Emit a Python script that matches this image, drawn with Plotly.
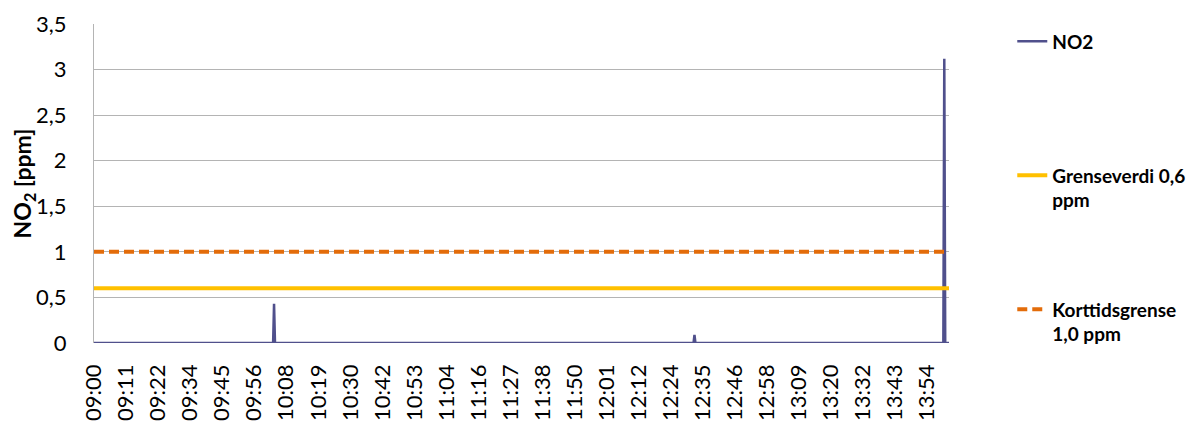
"""
NO2 measurement with limit values (Grenseverdi / Korttidsgrense)
"""
import plotly.graph_objects as go

# --------------------------------------------------------------------
#                               Data
# --------------------------------------------------------------------
# Measurement day (dummy date, only time of day is shown)
day = '2020-01-01'

# NO2 readings [ppm] - zero most of the time, three short peaks
no2_times = ['09:00:00', '10:03:20', '10:03:40', '10:04:00',
             '12:32:00', '12:32:20', '12:32:40',
             '14:00:20', '14:00:40', '14:01:00', '14:02:20']
no2_values = [0, 0, 0.43, 0,
              0, 0.09, 0,
              0, 3.12, 0, 0]

# Limit values [ppm]
limit_times = ['09:00:00', '14:02:20']
grenseverdi = [0.6, 0.6]
korttidsgrense = [1.0, 1.0]

# Axis
y_ticks = [0, 0.5, 1, 1.5, 2, 2.5, 3, 3.5]

# --------------------------------------------------------------------
#                               Plot
# --------------------------------------------------------------------
font = 'Lato, Open Sans, sans-serif'

def stamp(t):
    return '{0} {1}'.format(day, t)

fig = go.Figure()

fig.add_trace(go.Scatter(
    x=[stamp(t) for t in no2_times], y=no2_values,
    mode='lines', name='<b>NO2</b>',
    line=dict(color='#50508C', width=2.5),
    showlegend=True, legend='legend'))

fig.add_trace(go.Scatter(
    x=[stamp(t) for t in limit_times], y=grenseverdi,
    mode='lines', name='<b>Grenseverdi 0,6<br>ppm</b>',
    line=dict(color='#FFC000', width=4),
    showlegend=True, legend='legend2'))

fig.add_trace(go.Scatter(
    x=[stamp(t) for t in limit_times], y=korttidsgrense,
    mode='lines', name='<b>Korttidsgrense<br>1,0 ppm</b>',
    line=dict(color='#E36C0A', width=4, dash='10px,5px'),
    showlegend=True, legend='legend3'))

# Legend style (one legend per trace, so each can be placed freely)
def legend_at(y):
    return dict(xanchor='left', yanchor='top', x=1.074, y=y,
                valign='top', bgcolor='rgba(0,0,0,0)',
                font=dict(family=font, size=19, color='#000000'))

# The page body adds an 8px offset, so the figure is 8px smaller
fig.update_layout(
    width=1192, height=419,
    margin=dict(l=86, r=251, t=16, b=84, autoexpand=False),
    plot_bgcolor='white', paper_bgcolor='white',
    separators=', ',
    showlegend=True,
    font=dict(family=font, color='#000000'),
    legend=legend_at(1.005),
    legend2=legend_at(0.585),
    legend3=legend_at(0.165),
    xaxis=dict(
        type='date',
        range=[stamp(limit_times[0]), stamp(limit_times[-1])],
        tick0=stamp('09:00:00'), dtick=680000,
        tickformat='%H:%M', tickangle=-90,
        tickfont=dict(family=font, size=22),
        ticklabelstandoff=16,
        showgrid=False, zeroline=False, showline=False,
        ticks='', automargin=False),
    yaxis=dict(
        range=[0, 3.5],
        tickvals=y_ticks,
        tickfont=dict(family=font, size=22),
        ticklabelstandoff=22,
        showgrid=True, gridcolor='#B4B4B4', gridwidth=1,
        zeroline=False, automargin=False,
        showline=True, linecolor='#B4B4B4', linewidth=1,
        title=dict(text='<b>NO<sub>2</sub> [ppm]</b>',
                   font=dict(family=font, size=23),
                   standoff=0)),
)

# Save as html
fig.write_html('out.html')
